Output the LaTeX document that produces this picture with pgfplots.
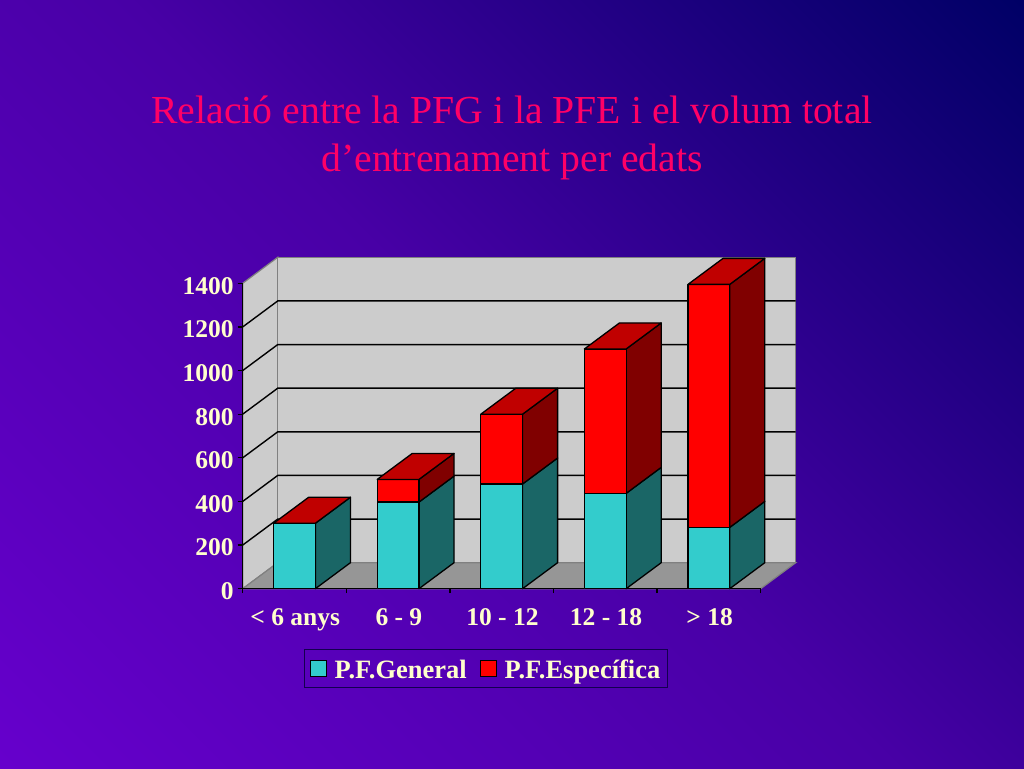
\documentclass[border=0pt]{standalone}
\usepackage{fontspec}
\setmainfont{Liberation Serif}
\usepackage{pgfplots}
\pgfplotsset{compat=1.18}
\definecolor{txt}{RGB}{255,255,204}
\definecolor{ttl}{RGB}{255,0,102}
\definecolor{bgA}{RGB}{102,0,204}
\definecolor{bgM}{RGB}{72,0,166}
\definecolor{bgB}{RGB}{0,0,102}
\definecolor{wall}{RGB}{204,204,204}
\definecolor{flr}{RGB}{150,150,150}
\definecolor{tealF}{RGB}{51,204,204}
\definecolor{tealS}{RGB}{26,102,102}
\definecolor{redF}{RGB}{255,0,0}
\definecolor{redS}{RGB}{128,0,0}
\definecolor{redT}{RGB}{192,0,0}
\definecolor{legline}{RGB}{20,0,80}
\pgfdeclareverticalshading{bgshade}{100bp}{color(0bp)=(bgA); color(14.6bp)=(bgA); color(50bp)=(bgM); color(85.4bp)=(bgB); color(100bp)=(bgB)}
\newcommand\Seg[5]{% centre, y0, y1, front, side
  \pgfmathsetmacro\xa{#1-0.2015}\pgfmathsetmacro\xb{#1+0.2015}
  \pgfmathsetmacro\xc{\xb+0.3383}
  \pgfmathsetmacro\yc{#2+119.2}\pgfmathsetmacro\yd{#3+119.2}
  \addplot[forget plot,fill=#5,draw=black,line width=1.3pt,line join=round] coordinates {(\xb,#2) (\xc,\yc) (\xc,\yd) (\xb,#3)} --cycle;
  \addplot[forget plot,fill=#4,draw=black,line width=1.3pt,line join=round] coordinates {(\xa,#2) (\xb,#2) (\xb,#3) (\xa,#3)} --cycle;
}
\newcommand\Top[2]{% centre, y
  \pgfmathsetmacro\xa{#1-0.2015}\pgfmathsetmacro\xb{#1+0.2015}
  \pgfmathsetmacro\xc{\xb+0.3383}\pgfmathsetmacro\xd{\xa+0.3383}
  \pgfmathsetmacro\yd{#2+119.2}
  \addplot[forget plot,fill=redT,draw=black,line width=1.3pt,line join=round] coordinates {(\xa,#2) (\xb,#2) (\xc,\yd) (\xd,\yd)} --cycle;
}
\newcommand\Grid[1]{%
  \pgfmathsetmacro\yd{#1+119.2}
  \addplot[forget plot,draw=black,line width=1.4pt] coordinates {(0,#1) (0.3383,\yd) (5.3383,\yd)};
}
\newcommand\YT[1]{\addplot[forget plot,draw=black,line width=1.3pt] coordinates {(-0.05,#1) (0,#1)};}
\newcommand\XT[1]{\addplot[forget plot,draw=black,line width=1.3pt] coordinates {(#1,-20) (#1,0)};}
\begin{document}
\begin{tikzpicture}[x=1pt,y=1pt]
\shade[shading=bgshade,shading angle=-45] (0,0) rectangle (1024,768);
\node[text=ttl,align=center,font=\fontsize{39.7}{48}\selectfont,anchor=center] at (512,630)
  {Relació entre la PFG i la PFE i el volum total\\d’entrenament per edats};
\begin{axis}[
  at={(242.7pt,179.3pt)},anchor=south west,
  scale only axis,width=553pt,height=331.4pt,
  xmin=0,xmax=5.3383,ymin=0,ymax=1519.2,
  clip=false,
  axis line style={draw=none},
  xtick={0.5,1.5,2.5,3.5,4.5},
  xticklabels={{< 6 anys},{6 - 9},{10 - 12},{12 - 18},{> 18}},
  ytick={0,200,400,600,800,1000,1200,1400},
  /pgf/number format/assume math mode=true,
  /pgf/number format/1000 sep={},
  tick pos=lower,
  major tick length=5pt,
  tick style={draw=none},
  tick label style={font=\fontsize{25.5}{26}\selectfont\bfseries,text=txt},
  xticklabel style={yshift=-16pt,xshift=0.8pt},
  yticklabel style={xshift=-5.5pt,yshift=-2.5pt},
  legend columns=2,
  legend style={at={(0.44,-0.2408)},anchor=center,draw=legline,line width=1pt,fill=none,
    font=\fontsize{26.5}{26.5}\selectfont\bfseries,text=txt,
    nodes={text height=20pt,text depth=0pt},
    /tikz/every even column/.append style={column sep=11pt},
    /tikz/every odd column/.append style={column sep=5.5pt},
    inner xsep=5.5pt,inner ysep=7pt},
  legend image code/.code={\draw[#1,draw=black,line width=1pt] (1.5pt,-8pt) rectangle (18pt,8.5pt);},
]
\addplot[forget plot,fill=wall,draw=gray,line width=1.2pt] coordinates {(0,0) (0,1400) (0.3383,1519.2) (0.3383,119.2)} --cycle;
\addplot[forget plot,fill=wall,draw=gray,line width=1.2pt] coordinates {(0.3383,119.2) (0.3383,1519.2) (5.3383,1519.2) (5.3383,119.2)} --cycle;
\addplot[forget plot,fill=flr,draw=gray,line width=1.2pt] coordinates {(0,0) (0.3383,119.2) (5.3383,119.2) (5,0)} --cycle;
\Grid{200}\Grid{400}\Grid{600}\Grid{800}\Grid{1000}\Grid{1200}
\addplot[forget plot,draw=black,line width=1.3pt] coordinates {(0,1400) (0,0) (5,0)};
\YT{0}\YT{200}\YT{400}\YT{600}\YT{800}\YT{1000}\YT{1200}\YT{1400}
\XT{0}\XT{1}\XT{2}\XT{3}\XT{4}\XT{5}
% P.F.General, P.F.Específica (stacked)
\Seg{0.5}{0}{300}{tealF}{tealS}\Top{0.5}{300}
\Seg{1.5}{0}{397}{tealF}{tealS}\Seg{1.5}{397}{501}{redF}{redS}\Top{1.5}{501}
\Seg{2.5}{0}{480}{tealF}{tealS}\Seg{2.5}{480}{800}{redF}{redS}\Top{2.5}{800}
\Seg{3.5}{0}{437}{tealF}{tealS}\Seg{3.5}{437}{1099}{redF}{redS}\Top{3.5}{1099}
\Seg{4.5}{0}{281}{tealF}{tealS}\Seg{4.5}{281}{1395}{redF}{redS}\Top{4.5}{1395}
\addlegendimage{fill=tealF}
\addlegendentry{P.F.General}
\addlegendimage{fill=redF}
\addlegendentry{P.F.Específica}
\end{axis}
\end{tikzpicture}
\end{document}
